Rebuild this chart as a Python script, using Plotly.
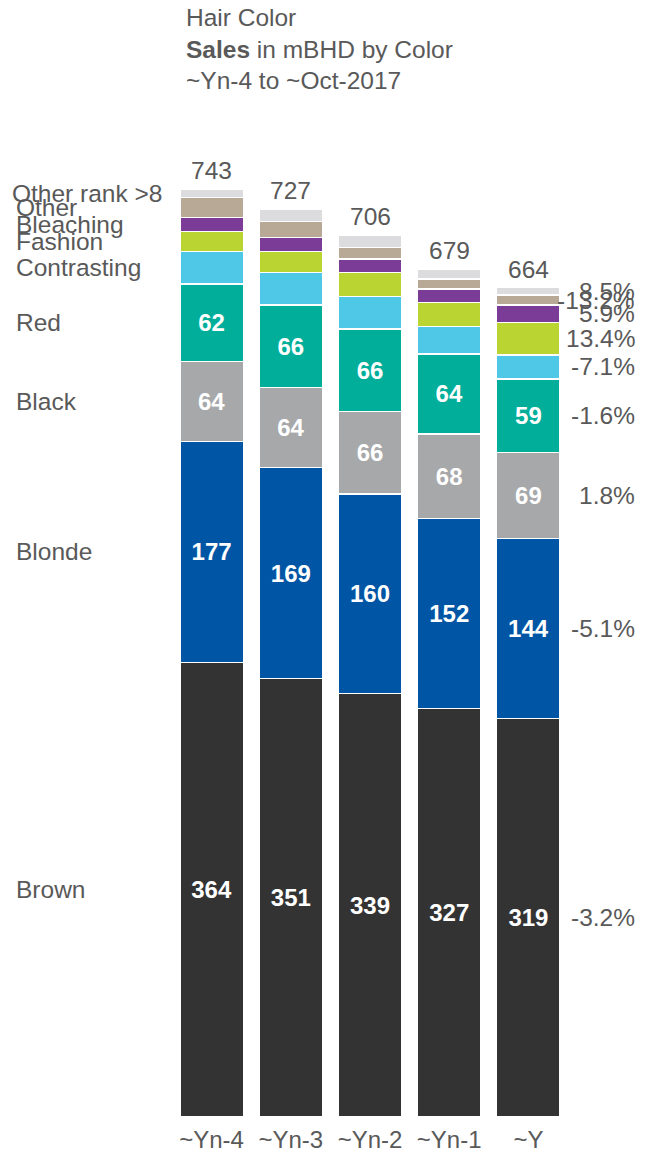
import plotly.graph_objects as go

categories = ["~Yn-4", "~Yn-3", "~Yn-2", "~Yn-1", "~Y"]
series_names = ["Brown", "Blonde", "Black", "Red", "Contrasting", "Fashion",
                "Bleaching", "Other", "Other rank >8"]
brown = [364, 351, 339, 327, 319]
blonde = [177, 169, 160, 152, 144]
black = [64, 64, 66, 68, 69]
red = [62, 66, 66, 64, 59]
contrasting = [26, 26, 26, 22, 19]
fashion = [16, 17, 19, 19, 26]
bleaching = [11, 11, 11, 11, 14]
other = [16, 13, 9, 8, 8]
other_rank8 = [7, 10, 10, 8, 6]
growth = ["-3.2%", "-5.1%", "1.8%", "-1.6%", "-7.1%", "13.4%", "5.9%", "-13.2%", "8.5%"]

colors = ["#333333", "#0055A4", "#A7A8AA", "#00AE9A", "#4FC8E8",
          "#BAD532", "#7B3C97", "#B7A995", "#DCDCDE"]
labelled = [True, True, True, True, False, False, False, False, False]
all_series = [brown, blonde, black, red, contrasting, fashion, bleaching, other, other_rank8]

FONT = "Liberation Sans, Arial, sans-serif"
GREY = "#595959"
FS = 24.5
OFF = 8  # page body margin
W, H = 646 - OFF, 1155 - OFF
L, R, T, B = 172 - OFF, 78, 150 - OFF, 38
plot_h = H - T - B
plot_w = W - L - R
YMAX = plot_h / 1.249

fig = go.Figure()
for name, vals, col, lab in zip(series_names, all_series, colors, labelled):
    fig.add_trace(go.Bar(
        x=categories, y=vals, name=name,
        marker=dict(color=col, line=dict(color="white", width=1.5)),
        text=[str(v) for v in vals] if lab else None,
        textposition="inside" if lab else "none",
        insidetextanchor="middle",
        textfont=dict(color="white", size=24, family=FONT, weight="bold"),
        hoverinfo="skip",
    ))

totals = [sum(s[i] for s in all_series) for i in range(len(categories))]
annotations = []
for c, t in zip(categories, totals):
    annotations.append(dict(x=c, y=t, xref="x", yref="y", text=str(t), showarrow=False,
                            yanchor="bottom", yshift=3,
                            font=dict(size=FS, color=GREY, family=FONT)))

def px_to_paper_x(p):
    return (p - OFF - L) / plot_w

def px_to_paper_y(p):
    return (H - B - (p - OFF)) / plot_h

cum_first = 0
cum_last = 0
for name, vals, g in zip(series_names, all_series, growth):
    cf = cum_first + vals[0] / 2
    cl = cum_last + vals[-1] / 2
    cum_first += vals[0]
    cum_last += vals[-1]
    annotations.append(dict(x=px_to_paper_x(10 if name == "Other rank >8" else 14), y=cf,
                            xref="paper", yref="y", text=name, showarrow=False,
                            xanchor="left", yanchor="middle",
                            font=dict(size=FS, color=GREY, family=FONT)))
    annotations.append(dict(x=px_to_paper_x(637), y=cl, xref="paper", yref="y", text=g,
                            showarrow=False, xanchor="right", yanchor="middle",
                            font=dict(size=FS, color=GREY, family=FONT)))

title_lines = ["Hair Color", "<b>Sales</b> in mBHD by Color", "~Yn-4 to ~Oct-2017"]
for line, yc in zip(title_lines, [17, 49, 81]):
    annotations.append(dict(x=px_to_paper_x(184), y=px_to_paper_y(yc), xref="paper", yref="paper",
                            text=line, showarrow=False, xanchor="left", yanchor="middle",
                            font=dict(size=FS, color=GREY, family=FONT)))

fig.update_layout(
    width=W, height=H,
    margin=dict(l=L, r=R, t=T, b=B, autoexpand=False),
    barmode="stack", bargap=0.2,
    showlegend=False,
    plot_bgcolor="white", paper_bgcolor="white",
    font=dict(family=FONT, color=GREY),
    annotations=annotations,
    xaxis=dict(showgrid=False, showline=False, zeroline=False, ticks="",
               tickfont=dict(size=24, color=GREY, family=FONT), ticklabelstandoff=6),
    yaxis=dict(range=[0, YMAX], visible=False, showgrid=False, zeroline=False),
)

fig.write_html("out.html")
